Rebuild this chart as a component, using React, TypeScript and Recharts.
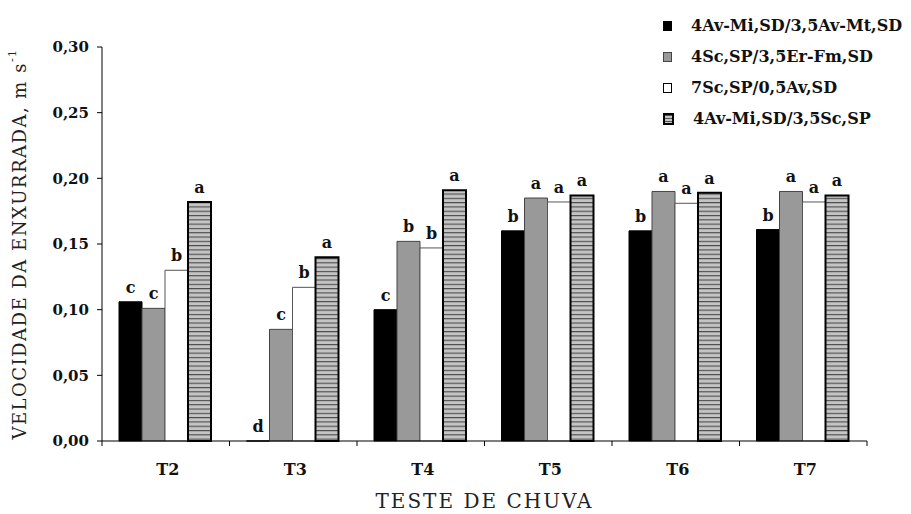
import { BarChart, Bar, XAxis, YAxis, LabelList } from 'recharts'

const tests = ['T2', 'T3', 'T4', 'T5', 'T6', 'T7']
const seriesNames = ['4Av-Mi,SD/3,5Av-Mt,SD', '4Sc,SP/3,5Er-Fm,SD', '7Sc,SP/0,5Av,SD', '4Av-Mi,SD/3,5Sc,SP']
const avMiAvMt = [0.106, 0, 0.100, 0.160, 0.160, 0.161]
const scErFm = [0.101, 0.085, 0.152, 0.185, 0.190, 0.190]
const scAv = [0.130, 0.117, 0.147, 0.182, 0.181, 0.182]
const avMiSc = [0.182, 0.140, 0.191, 0.187, 0.189, 0.187]
const letters1 = ['c', 'd', 'c', 'b', 'b', 'b']
const letters2 = ['c', 'c', 'b', 'a', 'a', 'a']
const letters3 = ['b', 'b', 'b', 'a', 'a', 'a']
const letters4 = ['a', 'a', 'a', 'a', 'a', 'a']
const yTicks = [0, 0.05, 0.1, 0.15, 0.2, 0.25, 0.3]

const rows = tests.map((t, i) => ({
  test: t,
  s1: avMiAvMt[i], s2: scErFm[i], s3: scAv[i], s4: avMiSc[i],
  l1: letters1[i], l2: letters2[i], l3: letters3[i], l4: letters4[i],
}))

const W = 911
const H = 514
const M = { top: 47, right: 44, bottom: 0, left: 0 }
const Y_W = 102
const BAND = (W - M.left - M.right - Y_W) / tests.length
const FONT = '"DejaVu Serif", serif'

const letterStyle = { fontFamily: FONT, fontWeight: 700, fontSize: 16, fill: '#111' }

// category tick: label plus boundary tick marks on each side
function TestTick(props: any) {
  const { x, y, payload, index } = props
  const half = BAND / 2
  return (
    <g>
      <line x1={x - half} y1={y - 5} x2={x - half} y2={y} stroke="#000" />
      {index === tests.length - 1 && <line x1={x + half} y1={y - 5} x2={x + half} y2={y} stroke="#000" />}
      <text x={x + 2} y={y + 29} textAnchor="middle" fontFamily={FONT} fontWeight={700} fontSize={16} fill="#111">
        {payload.value}
      </text>
    </g>
  )
}

function LegendBox() {
  const swatch = [
    { background: '#000', border: '1px solid #000' },
    { background: '#999', border: '1px solid #444' },
    { background: '#fff', border: '1px solid #000' },
    { background: 'repeating-linear-gradient(#555 0 1px, #c4c4c4 1px 3px)', border: '2px solid #000' },
  ]
  return (
    <div style={{ position: 'absolute', left: 663, top: 10, fontFamily: FONT, fontWeight: 700, fontSize: 16, color: '#111' }}>
      {seriesNames.map((n, i) => (
        <div key={n} style={{ display: 'flex', alignItems: 'center', height: 31 }}>
          <span style={{ width: 7, height: 8, marginRight: 19, boxSizing: 'content-box', ...swatch[i] }} />
          {n}
        </div>
      ))}
    </div>
  )
}

// zero-height bars still need their letter drawn
const keepZero = (v: any) => (v === 0 ? 0.01 : 0)

export default function App() {
  return (
    <div style={{ position: 'fixed', left: 0, top: 0, width: W, height: H, background: '#fff' }}>
      <BarChart width={W} height={H} data={rows} margin={M} barGap={0} barCategoryGap={17}>
        <defs>
          <pattern id="hatch" patternUnits="userSpaceOnUse" width="8" height="4.3">
            <rect width="8" height="4.3" fill="#c4c4c4" />
            <line x1="0" y1="0.5" x2="8" y2="0.5" stroke="#4a4a4a" strokeWidth="1.2" />
          </pattern>
        </defs>
        <XAxis
          dataKey="test"
          height={73}
          axisLine={{ stroke: '#000' }}
          tickLine={false}
          tickSize={5}
          tickMargin={0}
          tick={<TestTick />}
          label={{
            content: (p: any) => {
              const vb = p.viewBox || { x: Y_W, width: W - Y_W - M.right }
              return (
                <text x={vb.x + vb.width / 2} y={508} textAnchor="middle" fontFamily={FONT} fontSize={20} letterSpacing={2} fill="#222">
                  TESTE DE CHUVA
                </text>
              )
            },
          }}
        />
        <YAxis
          width={Y_W}
          domain={[0, 0.3]}
          ticks={yTicks}
          interval={0}
          axisLine={{ stroke: '#000' }}
          tickLine={{ stroke: '#000' }}
          tickSize={5}
          tickMargin={8}
          tickFormatter={(v: number) => v.toFixed(2).replace('.', ',')}
          tick={{ fontFamily: FONT, fontWeight: 700, fontSize: 15, fill: '#111' }}
          label={{
            content: (p: any) => {
              const vb = p.viewBox || { y: M.top, height: 394 }
              const cx = 19
              const cy = vb.y + vb.height / 2
              return (
                <text transform={`rotate(-90 ${cx} ${cy})`} x={cx} y={cy} textAnchor="middle" dominantBaseline="central"
                  fontFamily={FONT} fontSize={18} letterSpacing={1.5} fill="#222">
                  VELOCIDADE DA ENXURRADA, m s<tspan dy={-7} fontSize={11}>-1</tspan>
                </text>
              )
            },
          }}
        />
        <Bar dataKey="s1" fill="#000" stroke="#000" strokeWidth={1} minPointSize={keepZero} isAnimationActive={false}>
          <LabelList dataKey="l1" position="top" offset={9} style={letterStyle} />
        </Bar>
        <Bar dataKey="s2" fill="#999" stroke="#444" strokeWidth={1} isAnimationActive={false}>
          <LabelList dataKey="l2" position="top" offset={9} style={letterStyle} />
        </Bar>
        <Bar dataKey="s3" fill="#fff" stroke="#555" strokeWidth={1} isAnimationActive={false}>
          <LabelList dataKey="l3" position="top" offset={9} style={letterStyle} />
        </Bar>
        <Bar dataKey="s4" fill="url(#hatch)" stroke="#000" strokeWidth={2} isAnimationActive={false}>
          <LabelList dataKey="l4" position="top" offset={9} style={letterStyle} />
        </Bar>
      </BarChart>
      <LegendBox />
    </div>
  )
}
